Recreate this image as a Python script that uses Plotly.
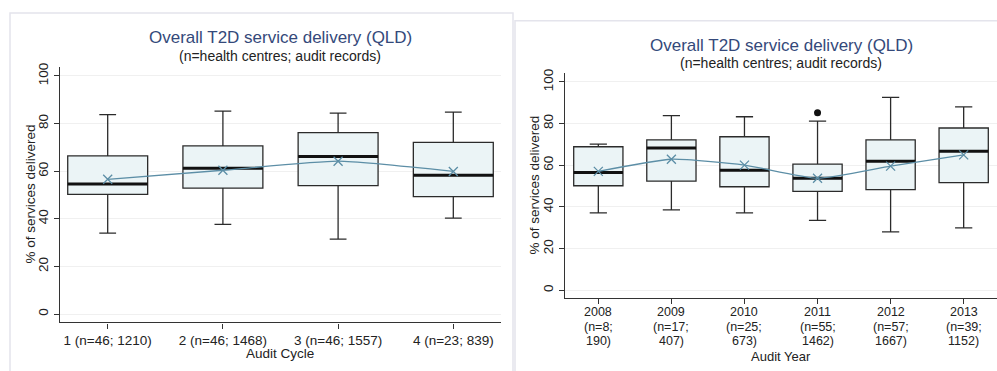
import plotly.graph_objects as go

# ---- Data ----
cycle_labels = ["1 (n=46; 1210)", "2 (n=46; 1468)", "3 (n=46; 1557)", "4 (n=23; 839)"]
cycle_lower = [34.0, 37.7, 31.5, 40.3]
cycle_q1 = [50.3, 52.9, 53.9, 49.3]
cycle_median = [54.6, 61.2, 66.2, 58.3]
cycle_q3 = [66.4, 70.6, 76.2, 72.1]
cycle_upper = [83.8, 85.2, 84.4, 84.8]
cycle_mean = [56.6, 60.4, 64.2, 59.9]

year_names = ["2008", "2009", "2010", "2011", "2012", "2013"]
year_centres = ["(n=8;", "(n=17;", "(n=25;", "(n=55;", "(n=57;", "(n=39;"]
year_records = ["190)", "407)", "673)", "1462)", "1667)", "1152)"]
year_lower = [37.2, 38.6, 37.2, 33.6, 28.1, 30.0]
year_q1 = [50.2, 52.4, 49.7, 47.5, 48.3, 51.7]
year_median = [56.6, 68.3, 57.6, 53.8, 62.0, 66.7]
year_q3 = [68.9, 72.2, 73.7, 60.6, 72.2, 77.9]
year_upper = [70.2, 83.8, 83.3, 81.2, 92.6, 88.0]
year_mean = [57.1, 62.9, 60.1, 53.8, 59.6, 65.0]
outlier_idx = [3]
outlier_val = [85.2]

yticks = [0, 20, 40, 60, 80, 100]

W, H = 997, 371
FONT = "Liberation Sans, Arial, sans-serif"
BOX_FILL = "#ebf4f6"
BOX_LINE = "#2b2b2b"
MEAN_COL = "#5c8ea6"
TITLE_COL = "#34497a"
TICK_SIZE = 13.5

fig = go.Figure()

def add_panel(xa, ya, lower, q1, med, q3, upper, mean, width, whisk):
    xs = list(range(len(med)))
    fig.add_trace(go.Box(
        x=xs, q1=q1, median=med, q3=q3, lowerfence=lower, upperfence=upper,
        width=width, whiskerwidth=whisk, fillcolor=BOX_FILL,
        line=dict(color=BOX_LINE, width=1.3), boxpoints=False,
        xaxis=xa, yaxis=ya, showlegend=False, hoverinfo="skip"))
    mx, my = [], []
    for i, m in zip(xs, med):
        mx += [i - width / 2, i + width / 2, None]
        my += [m, m, None]
    fig.add_trace(go.Scatter(x=mx, y=my, mode="lines",
                             line=dict(color="#111111", width=3),
                             xaxis=xa, yaxis=ya, showlegend=False, hoverinfo="skip"))
    fig.add_trace(go.Scatter(x=xs, y=mean, mode="lines+markers",
                             line=dict(color=MEAN_COL, width=1.3, shape="spline", smoothing=0.5),
                             marker=dict(symbol="x-thin", size=9, line=dict(color=MEAN_COL, width=1.3)),
                             xaxis=xa, yaxis=ya, showlegend=False, hoverinfo="skip"))

add_panel("x", "y", cycle_lower, cycle_q1, cycle_median, cycle_q3, cycle_upper, cycle_mean, 0.694, 0.21)
add_panel("x2", "y2", year_lower, year_q1, year_median, year_q3, year_upper, year_mean, 0.674, 0.35)
fig.add_trace(go.Scatter(x=outlier_idx, y=outlier_val, mode="markers",
                         marker=dict(color="#111111", size=7, symbol="circle"),
                         xaxis="x2", yaxis="y2", showlegend=False, hoverinfo="skip"))

axis_common = dict(showline=True, linecolor="#333333", linewidth=1.3, ticks="outside",
                   ticklen=5, tickcolor="#333333",
                   tickfont=dict(family=FONT, size=TICK_SIZE, color="#222"),
                   zeroline=False)

fig.update_layout(
    width=W, height=H, margin=dict(l=0, r=0, t=0, b=0),
    paper_bgcolor="white", plot_bgcolor="white",
    font=dict(family=FONT),
    xaxis=dict(domain=[60 / W, 501 / W], range=[-0.414, 3.414], tickmode="array",
               tickvals=list(range(4)), ticktext=cycle_labels, showgrid=False,
               anchor="y", **axis_common),
    yaxis=dict(domain=[1 - 321.7 / H, 1 - 63 / H], range=[-3.5, 103.7], tickvals=yticks,
               tickangle=-90, showgrid=True, gridcolor="#f0f0f0", anchor="x", **axis_common),
    xaxis2=dict(domain=[565 / W, 1.0], range=[-0.456, 5.456], tickmode="array",
                tickvals=list(range(6)), ticktext=[""] * 6, showgrid=False,
                anchor="y2", **axis_common),
    yaxis2=dict(domain=[1 - 297.3 / H, 1 - 69.3 / H], range=[-3.8, 104.1], tickvals=yticks,
                tickangle=-90, showgrid=True, gridcolor="#f0f0f0", anchor="x2", **axis_common),
)

# panel frames
fig.add_shape(type="rect", xref="paper", yref="paper", x0=10 / W, x1=513 / W, y0=-0.01, y1=1 - 8 / H,
              line=dict(color="#e4e4ec", width=1.5), layer="below")
fig.add_shape(type="rect", xref="paper", yref="paper", x0=515 / W, x1=1.01, y0=-0.01, y1=1 - 16 / H,
              line=dict(color="#e4e4ec", width=1.5), layer="below")

def ann(x, y, text, size, color="#222", angle=0):
    fig.add_annotation(x=x / W, y=1 - y / H, xref="paper", yref="paper", text=text,
                       showarrow=False, textangle=angle, xanchor="center", yanchor="middle",
                       borderpad=0, font=dict(family=FONT, size=size, color=color))

# multi-line year tick labels, one annotation per line for tight line spacing
for i, (a, b, c) in enumerate(zip(year_names, year_centres, year_records)):
    for text, ypx in ((a, 311.5), (b, 326), (c, 340.5)):
        fig.add_annotation(x=i, y=1 - ypx / H, xref="x2", yref="paper", text=text,
                           showarrow=False, xanchor="center", yanchor="middle", borderpad=0,
                           font=dict(family=FONT, size=12.5, color="#222"))

ann(280, 33, "Overall T2D service delivery (QLD)", 17, TITLE_COL)
ann(280, 52, "(n=health centres; audit records)", 14)
ann(781, 41, "Overall T2D service delivery (QLD)", 17, TITLE_COL)
ann(781, 59, "(n=health centres; audit records)", 14)
ann(30, 192, "% of services delivered", 13.5, angle=-90)
ann(535, 183, "% of services delivered", 13.5, angle=-90)
ann(280, 353, "Audit Cycle", 13.5)
ann(781, 356, "Audit Year", 13)

fig.write_html("out.html")
